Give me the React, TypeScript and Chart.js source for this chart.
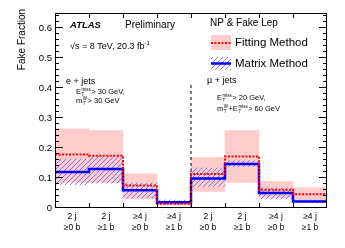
import React, { useEffect, useRef } from 'react';
import { Chart, registerables } from 'chart.js';

Chart.register(...registerables);

const categories: string[][] = [
  ['2 j', '≥0 b'], ['2 j', '≥1 b'], ['≥4 j', '≥0 b'], ['≥4 j', '≥1 b'],
  ['2 j', '≥0 b'], ['2 j', '≥1 b'], ['≥4 j', '≥0 b'], ['≥4 j', '≥1 b'],
];
const fittingValues = [0.178, 0.174, 0.075, 0.014, 0.113, 0.172, 0.061, 0.046];
const fittingLow = [0.085, 0.085, 0.030, 0.010, 0.055, 0.085, 0.035, 0.022];
const fittingHigh = [0.264, 0.258, 0.114, 0.022, 0.169, 0.258, 0.089, 0.067];
const matrixValues = [0.120, 0.130, 0.059, 0.019, 0.098, 0.147, 0.050, 0.022];
const matrixLow = [0.078, 0.083, 0.034, 0.012, 0.072, 0.139, 0.030, 0.018];
const matrixHigh = [0.163, 0.172, 0.083, 0.026, 0.133, 0.158, 0.067, 0.026];
const yMin = 0;
const yMax = 0.65;
const yStep = 0.1;
const channelSplit = 4;
const splitTop = 0.42;

const FONT = '"Liberation Sans", Arial, Helvetica, sans-serif';

function stepData(vals: number[]) {
  const pts = vals.map((v, i) => ({ x: i, y: v }));
  pts.push({ x: vals.length, y: vals[vals.length - 1] });
  return pts;
}

function makeHatch(): CanvasPattern | string {
  const c = document.createElement('canvas');
  const s = 5;
  c.width = s;
  c.height = s;
  const g = c.getContext('2d');
  if (!g) return 'rgba(100,100,255,0.4)';
  g.strokeStyle = 'rgba(90,90,255,0.8)';
  g.lineWidth = 1;
  g.beginPath();
  g.moveTo(0, s);
  g.lineTo(s, 0);
  g.moveTo(-1, 1);
  g.lineTo(1, -1);
  g.moveTo(s - 1, s + 1);
  g.lineTo(s + 1, s - 1);
  g.stroke();
  const p = g.createPattern(c, 'repeat');
  return p || 'rgba(100,100,255,0.4)';
}

type Part = { t: string; size: number; dy?: number } | { sup: string; sub: string; size: number };

function drawRich(ctx: CanvasRenderingContext2D, x: number, y: number, parts: Part[]) {
  let cx = x;
  ctx.textAlign = 'left';
  ctx.textBaseline = 'alphabetic';
  for (const p of parts) {
    if ('t' in p) {
      ctx.font = `${p.size}px ${FONT}`;
      ctx.fillText(p.t, cx, y + (p.dy || 0));
      cx += ctx.measureText(p.t).width;
    } else {
      ctx.font = `${p.size}px ${FONT}`;
      const w1 = ctx.measureText(p.sup).width;
      const w2 = ctx.measureText(p.sub).width;
      ctx.fillText(p.sup, cx + 0.5, y - p.size * 0.75);
      ctx.fillText(p.sub, cx + 0.5, y + p.size * 0.45);
      cx += Math.max(w1, w2) + 1;
    }
  }
}

export default function App() {
  const ref = useRef<HTMLCanvasElement | null>(null);

  useEffect(() => {
    document.body.style.margin = '0';
    const canvas = ref.current;
    if (!canvas) return;
    const hatch = makeHatch();

    const decor = {
      id: 'decor',
      afterDraw(chart: any) {
        const ctx: CanvasRenderingContext2D = chart.ctx;
        const a = chart.chartArea;
        const y = chart.scales.y;
        const xl = chart.scales.xl;
        ctx.save();
        ctx.strokeStyle = '#000';
        ctx.lineWidth = 1;
        ctx.strokeRect(Math.round(a.left) + 0.5, Math.round(a.top) + 0.5, Math.round(a.right - a.left) - 1, Math.round(a.bottom - a.top) - 1);
        ctx.beginPath();
        for (let i = 0; i * 0.02 <= yMax + 1e-9; i++) {
          const v = i * 0.02;
          const py = Math.round(y.getPixelForValue(v)) - 0.5;
          const len = i % 5 === 0 ? 8 : 4;
          ctx.moveTo(a.left, py);
          ctx.lineTo(a.left + len, py);
          ctx.moveTo(a.right, py);
          ctx.lineTo(a.right - len, py);
        }
        for (let i = 1; i < categories.length; i++) {
          const px = Math.round(xl.getPixelForValue(i)) + 0.5;
          ctx.moveTo(px, a.bottom);
          ctx.lineTo(px, a.bottom - 5);
          ctx.moveTo(px, a.top);
          ctx.lineTo(px, a.top + 5);
        }
        ctx.stroke();

        ctx.fillStyle = '#000';
        ctx.save();
        ctx.translate(22, 9);
        ctx.rotate(-Math.PI / 2);
        ctx.font = `10px ${FONT}`;
        ctx.textAlign = 'right';
        ctx.textBaseline = 'middle';
        ctx.fillText('Fake Fraction', 0, 0);
        ctx.restore();

        ctx.textBaseline = 'middle';
        ctx.textAlign = 'left';
        ctx.font = `italic bold 9.5px ${FONT}`;
        ctx.fillText('ATLAS', 70, 25);
        ctx.font = `10px ${FONT}`;
        ctx.fillText('Preliminary', 125, 25);
        ctx.fillText('NP & Fake Lep', 210, 23);

        drawRich(ctx, 70, 48.5, [
          { t: '√s = 8 TeV, 20.3 fb', size: 9 },
          { t: '-1', size: 6, dy: -4 },
        ]);

        ctx.fillStyle = '#ffcccc';
        ctx.fillRect(211, 35, 20, 15);
        ctx.strokeStyle = '#ff0000';
        ctx.lineWidth = 2;
        ctx.setLineDash([2, 1.5]);
        ctx.beginPath();
        ctx.moveTo(211, 43);
        ctx.lineTo(231, 43);
        ctx.stroke();
        ctx.setLineDash([]);
        ctx.fillStyle = hatch as any;
        ctx.fillRect(211, 57, 20, 13);
        ctx.strokeStyle = '#0000ff';
        ctx.lineWidth = 2.5;
        ctx.beginPath();
        ctx.moveTo(211, 63.5);
        ctx.lineTo(231, 63.5);
        ctx.stroke();
        ctx.fillStyle = '#000';
        ctx.font = `11.5px ${FONT}`;
        ctx.textBaseline = 'middle';
        ctx.fillText('Fitting Method', 235, 43);
        ctx.fillText('Matrix Method', 235, 64);

        ctx.font = `9px ${FONT}`;
        ctx.fillText('e + jets', 66, 82);
        ctx.fillText('μ + jets', 207, 81);

        drawRich(ctx, 76, 94, [
          { t: 'E', size: 7.5 },
          { sup: 'miss', sub: 'T', size: 4.5 },
          { t: '> 30 GeV,', size: 7.5 },
        ]);
        drawRich(ctx, 76, 103, [
          { t: 'm', size: 7.5 },
          { sup: 'W', sub: 'T', size: 4.5 },
          { t: '> 30 GeV', size: 7.5 },
        ]);
        drawRich(ctx, 217, 100, [
          { t: 'E', size: 7.5 },
          { sup: 'miss', sub: 'T', size: 4.5 },
          { t: '> 20 GeV,', size: 7.5 },
        ]);
        drawRich(ctx, 217, 111, [
          { t: 'm', size: 7.5 },
          { sup: 'W', sub: 'T', size: 4.5 },
          { t: '+E', size: 7.5 },
          { sup: 'miss', sub: 'T', size: 4.5 },
          { t: '> 60 GeV', size: 7.5 },
        ]);
        ctx.restore();
      },
    };

    const chart = new Chart(canvas, {
      data: {
        labels: categories as any,
        datasets: [
          {
            type: 'bar',
            data: fittingLow.map((l, i) => [l, fittingHigh[i]]) as any,
            backgroundColor: '#ffcccc',
            borderWidth: 0,
            barPercentage: 1,
            categoryPercentage: 1,
            grouped: false,
            xAxisID: 'x',
            yAxisID: 'y',
            order: 5,
          },
          {
            type: 'bar',
            data: matrixLow.map((l, i) => [l, matrixHigh[i]]) as any,
            backgroundColor: hatch as any,
            borderWidth: 0,
            barPercentage: 1,
            categoryPercentage: 1,
            grouped: false,
            xAxisID: 'x',
            yAxisID: 'y',
            order: 4,
          },
          {
            type: 'line',
            data: stepData(matrixValues) as any,
            xAxisID: 'xl',
            yAxisID: 'y',
            stepped: true,
            borderColor: '#0000ff',
            borderWidth: 2.5,
            pointRadius: 0,
            fill: false,
            order: 3,
          },
          {
            type: 'line',
            data: stepData(fittingValues) as any,
            xAxisID: 'xl',
            yAxisID: 'y',
            stepped: true,
            borderColor: '#ff0000',
            borderWidth: 2,
            borderDash: [2, 1.5],
            pointRadius: 0,
            fill: false,
            order: 2,
          },
          {
            type: 'line',
            data: [{ x: channelSplit, y: 0 }, { x: channelSplit, y: splitTop }] as any,
            xAxisID: 'xl',
            yAxisID: 'y',
            borderColor: '#000',
            borderWidth: 1,
            borderDash: [3, 3],
            pointRadius: 0,
            fill: false,
            order: 1,
          },
        ],
      },
      options: {
        responsive: false,
        animation: false,
        events: [],
        layout: { padding: { top: 13, right: 18, left: 0, bottom: 0 } },
        plugins: { legend: { display: false }, tooltip: { enabled: false } },
        scales: {
          x: {
            type: 'category',
            offset: true,
            grid: { display: false, drawTicks: false },
            border: { display: false },
            ticks: { color: '#000', font: { family: FONT, size: 8.5 }, padding: 4, maxRotation: 0, autoSkip: false },
            afterFit(s: any) { s.height = 40; },
          },
          xl: { type: 'linear', min: 0, max: categories.length, display: false },
          y: {
            type: 'linear',
            min: yMin,
            max: yMax,
            grid: { display: false, drawTicks: false },
            border: { display: false },
            ticks: {
              stepSize: yStep,
              includeBounds: false,
              color: '#000',
              font: { family: FONT, size: 9.5 },
              padding: 3,
              callback: (v: any) => (Number(v) === 0 ? '0' : Number(v).toFixed(1)),
            },
            afterFit(s: any) { s.width = 55; },
          },
        } as any,
      },
      plugins: [decor],
    } as any);

    return () => chart.destroy();
  }, []);

  return (
    <div style={{ width: 345, height: 248 }}>
      <canvas ref={ref} width={345} height={248} style={{ display: 'block' }} />
    </div>
  );
}
